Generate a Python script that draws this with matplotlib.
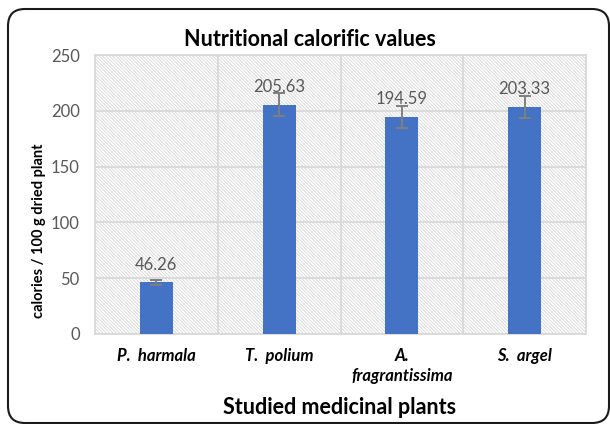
import matplotlib
matplotlib.use('Agg')
import matplotlib.pyplot as plt
from matplotlib.patches import Rectangle, FancyBboxPatch

# ------------------------------------------------------------------ #
# data
plants = ['P.  harmala', 'T.  polium', 'A.\nfragrantissima', 'S.  argel']
calories = [46.26, 205.63, 194.59, 203.33]
errors = [2.5, 10.5, 10.0, 10.0]
yticks = [0, 50, 100, 150, 200, 250]

# ------------------------------------------------------------------ #
plt.rcParams['font.family'] = ['Lato', 'DejaVu Sans']
plt.rcParams['hatch.linewidth'] = 0.6

W, H = 610, 424
fig = plt.figure(figsize=(W / 100, H / 100), dpi=100)
ax = fig.add_axes([95 / W, (H - 334) / H, 491 / W, 279 / H])

grid_col = '#d9d9d9'
bar_col = '#4472c4'
text_gray = '#595959'

# hatched plot background
ax.add_patch(Rectangle((0, 0), 1, 1, transform=ax.transAxes,
                       facecolor='white', edgecolor='#d6d6d6',
                       hatch='\\' * 10, lw=0, zorder=0))

x = list(range(len(plants)))
ax.bar(x, calories, width=0.27, color=bar_col, zorder=3,
       yerr=errors, error_kw=dict(ecolor='#7f7f7f', elinewidth=1.4,
                                  capsize=4, capthick=1.4, zorder=4))

for xi, v in zip(x, calories):
    ax.annotate('%.2f' % v, (xi, v), xytext=(0, 7), textcoords='offset points',
                ha='center', va='bottom', fontsize=12, color=text_gray, zorder=5)

ax.set_xlim(-0.5, len(plants) - 0.5)
ax.set_ylim(0, 250)
ax.set_yticks(yticks)
ax.yaxis.grid(True, color=grid_col, linewidth=1.3, zorder=1)
ax.set_axisbelow(True)
for b in range(len(plants) + 1):
    ax.axvline(b - 0.5, color=grid_col, linewidth=1.3, zorder=1)

for s in ax.spines.values():
    s.set_color(grid_col)
    s.set_linewidth(1.3)

ax.set_xticks(x)
ax.set_xticklabels(plants, fontsize=12, fontweight='bold', style='italic')
for lbl in ax.get_xticklabels():
    lbl.set_linespacing(1.3)
ax.tick_params(axis='x', length=0, pad=10, colors='black')
ax.tick_params(axis='y', length=0, pad=11, labelsize=12, colors=text_gray)

fig.text(310 / W, 1 - 40 / H, 'Nutritional calorific values', ha='center',
         va='center', fontsize=15.5, fontweight='bold')
fig.text(340 / W, 1 - 408 / H, 'Studied medicinal plants', ha='center',
         va='center', fontsize=15.5, fontweight='bold')
fig.text(39 / W, 1 - 231 / H, 'calories / 100 g dried plant', ha='center',
         va='center', rotation=90, fontsize=10.5, fontweight='bold')

# rounded frame around the whole chart
fig.patches.append(FancyBboxPatch((0.08, 0.01), 6.01, 4.14,
                                  boxstyle='round,pad=0,rounding_size=0.17',
                                  transform=fig.dpi_scale_trans, fill=False,
                                  edgecolor='#1a1a1a', linewidth=1.5))

fig.savefig('out.png', dpi=100)
